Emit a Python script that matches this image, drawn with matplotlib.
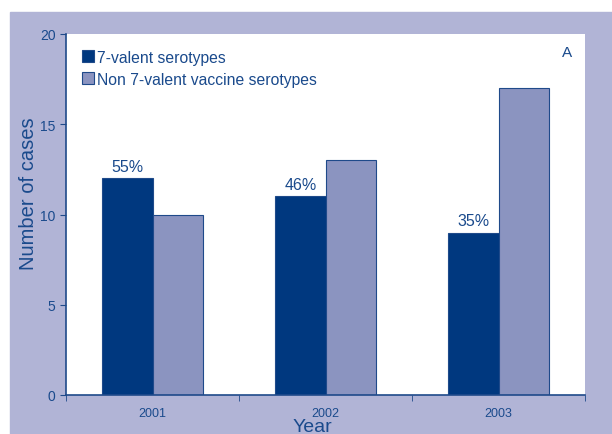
import matplotlib
matplotlib.use('Agg')
import matplotlib.pyplot as plt
from matplotlib.patches import Rectangle
import numpy as np

# Data
years = ['2001', '2002', '2003']
vaccine_types = [12, 11, 9]
non_vaccine_types = [10, 13, 17]
pct_labels = ['55%', '46%', '35%']

dark = '#00387f'
light = '#8b94c0'
edge = '#1f4a8a'
txt = '#1a4a8c'
panel = '#b1b4d6'

plt.rcParams['font.family'] = ['Liberation Sans', 'DejaVu Sans']

fig = plt.figure(figsize=(6.12, 4.35), dpi=100)
fig.add_artist(Rectangle((10 / 612, 0), 1, (435 - 13) / 435,
                         transform=fig.transFigure, color=panel, zorder=-5))

ax = fig.add_axes([66 / 612, 39 / 435, 519 / 612, 361 / 435])
ax.set_zorder(1)
ax.set_facecolor('white')

x = np.arange(len(years))
w = 0.29
ax.bar(x - w / 2, vaccine_types, w, color=dark, edgecolor=edge, linewidth=0.8,
       label='7-valent serotypes')
ax.bar(x + w / 2, non_vaccine_types, w, color=light, edgecolor=edge, linewidth=0.8,
       label='Non 7-valent vaccine serotypes')

for xi, v, s in zip(x, vaccine_types, pct_labels):
    ax.text(xi - w / 2, v + 0.25, s, ha='center', va='bottom', color=txt, fontsize=11.5)

ax.set_xlim(-0.5, 2.5)
ax.set_ylim(0, 20)
ax.set_yticks([0, 5, 10, 15, 20])
ax.set_xticks(x)
ax.set_xticklabels(years)
ax.set_xticks([-0.5, 0.5, 1.5, 2.5], minor=True)
ax.tick_params(axis='x', which='major', length=0, pad=9, labelsize=9, colors=txt)
ax.tick_params(axis='x', which='minor', length=4, direction='out', color=edge)
ax.tick_params(axis='y', length=4, direction='out', labelsize=10, colors=txt, color=edge)

for side in ['top', 'right']:
    ax.spines[side].set_visible(False)
for side in ['left', 'bottom']:
    ax.spines[side].set_color(edge)
    ax.spines[side].set_linewidth(1.2)

ax.set_ylabel('Number of cases', color=txt, fontsize=14.5)
ax.yaxis.set_label_coords(-0.054, 0.56)
ax.set_xlabel('Year', color=txt, fontsize=14)
ax.xaxis.set_label_coords(0.474, -0.065)

ax.text(0.975, 0.97, 'A', transform=ax.transAxes, ha='right', va='top',
        color=txt, fontsize=11)

leg = ax.legend(loc='upper left', bbox_to_anchor=(0.0, 1.0), frameon=False,
                fontsize=11.3, handlelength=0.8, handleheight=0.8,
                handletextpad=0.2, labelspacing=0.45, borderaxespad=0.6)
for t in leg.get_texts():
    t.set_color(txt)

fig.savefig('out.png', dpi=100)
